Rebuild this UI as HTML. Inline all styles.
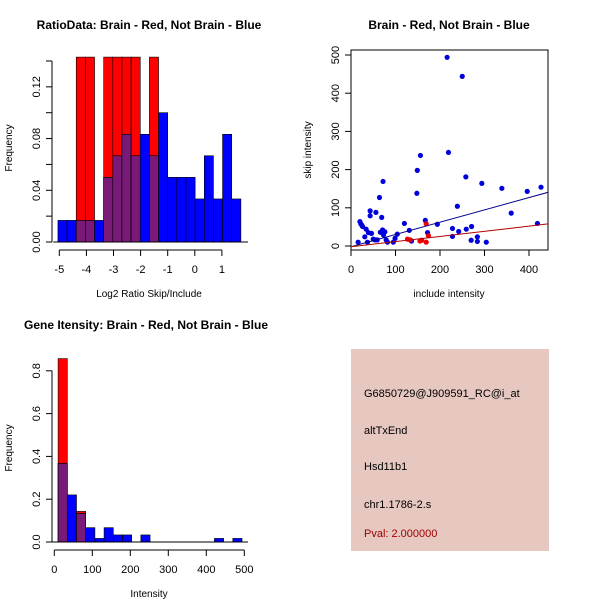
<!DOCTYPE html>
<html><head><meta charset="utf-8"><style>
html,body{margin:0;padding:0;background:#fff;}
svg{display:block;font-family:"Liberation Sans",sans-serif;}
</style></head><body>
<svg id="c" width="600" height="600" xmlns="http://www.w3.org/2000/svg">
<rect width="600" height="600" fill="#fff"/>
<g>
<rect x="351" y="349" width="198" height="202" fill="#e6c8c0"/>
<text x="364" y="397" font-size="11" fill="#000">G6850729@J909591_RC@i_at</text>
<text x="364" y="434" font-size="11" fill="#000">altTxEnd</text>
<text x="364" y="470" font-size="11" fill="#000">Hsd11b1</text>
<text x="364" y="508" font-size="11" fill="#000">chr1.1786-2.s</text>
<text x="364" y="537" font-size="11" fill="#a00000">Pval: 2.000000</text>
</g>
</svg>
<script>
// ---- Plot 1: ratio histogram ----
const ratioBinStart = -5.05, ratioBinWidth = 0.3375;
const ratioBlue = [0.0167,0.0167,0.0167,0.0167,0.0167,0.05,0.0667,0.0833,0.0667,0.0833,0.0667,0.1,0.05,0.05,0.05,0.0333,0.0667,0.0333,0.0833,0.0333];
const ratioRed  = [0,0,0.143,0.143,0,0.143,0.143,0.143,0.143,0,0.143,0,0,0,0,0,0,0,0,0];
const ratioXTicks = [-5,-4,-3,-2,-1,0,1];
const ratioYTicks = [0.00,0.02,0.04,0.06,0.08,0.10,0.12,0.14];
const ratioYLabels = [0.00,0.04,0.08,0.12];
// ---- Plot 2: scatter ----
const blueX = [16,20,22,24,26,31,34,37,39,43,43,46,50,54,56,59,64,66,69,71,72,73,76,79,82,95,99,104,120,131,136,148,149,156,167,172,194,216,219,228,228,239,242,250,258,259,270,271,284,284,294,304,339,360,396,419,427];
const blueY = [10,64,58,55,51,24,44,10,35,92,79,33,18,16,88,16,127,36,75,42,169,29,37,16,10,10,20,31,59,41,13,138,198,237,67,35,57,494,245,46,25,104,38,444,181,44,15,51,24,12,164,10,151,86,143,59,154];
const redX = [127,133,155,159,169,169,174];
const redY = [18,16,13,15,10,58,27];
const blueFit = [-2,0.322];
const redFit = [-2,0.135];
const scXTicks = [0,100,200,300,400];
const scYTicks = [0,100,200,300,400,500];
// ---- Plot 3: intensity histogram ----
const intBinStart = 10, intBinWidth = 24.2;
const intBlue = [0.367,0.22,0.133,0.067,0.0167,0.067,0.033,0.033,0,0.033,0,0,0,0,0,0,0,0.0167,0,0.0167];
const intRed  = [0.857,0,0.143,0,0,0,0,0,0,0,0,0,0,0,0,0,0,0,0,0];
const intXTicks = [0,100,200,300,400,500];
const intYTicks = [0.0,0.2,0.4,0.6,0.8];

const svg = document.getElementById('c');
const NS = 'http://www.w3.org/2000/svg';
function mk(tag, at, parent){const e=document.createElementNS(NS,tag);for(const k in at)e.setAttribute(k,at[k]);(parent||svg).appendChild(e);return e;}
function txt(x,y,s,at,parent){const e=mk('text',Object.assign({x:x,y:y,'font-size':11,'text-anchor':'middle',fill:'#000'},at||{}),parent);e.textContent=s;return e;}

function hist(cfg){
  const g = mk('g',{});
  
  
  const X=v=>cfg.x0+(v-cfg.xmin)*cfg.xs, Y=v=>cfg.y0-v*cfg.ys;
  const clipTop = cfg.ytop;
  for(let i=0;i<cfg.blue.length;i++){
    const a=X(cfg.start+i*cfg.w), b=X(cfg.start+(i+1)*cfg.w);
    const bl=cfg.blue[i], rd=cfg.red[i];
    const ov=Math.min(bl,rd);
    if(rd>0){const r=mk('rect',{x:a,y:Math.max(clipTop,Y(rd)),width:b-a,height:cfg.y0-Math.max(clipTop,Y(rd)),fill:'#ff0000',stroke:'#000','stroke-width':0.6},g);
      
      }
    if(bl>0){const r=mk('rect',{x:a,y:Y(bl),width:b-a,height:cfg.y0-Y(bl),fill:'#0000ff',stroke:'#000','stroke-width':0.6},g);
      
      }
    if(ov>0){const r=mk('rect',{x:a,y:Y(ov),width:b-a,height:cfg.y0-Y(ov),fill:'#7a1a78',stroke:'#000','stroke-width':0.6},g);
      
      }
  }
  mk('line',{x1:cfg.x0-6,x2:cfg.baseEnd,y1:cfg.y0,y2:cfg.y0,stroke:'#000'},g);
  // y axis
  mk('line',{x1:cfg.yaxX,x2:cfg.yaxX,y1:cfg.y0,y2:Y(cfg.yt[cfg.yt.length-1]),stroke:'#000'},g);
  cfg.yt.forEach(t=>{mk('line',{x1:cfg.yaxX-6,x2:cfg.yaxX,y1:Y(t),y2:Y(t),stroke:'#000'},g);});
  cfg.yl.forEach(t=>{txt(cfg.yaxX-12,Y(t),t.toFixed(cfg.ydec),{transform:`rotate(-90 ${cfg.yaxX-12} ${Y(t)})`},g);});
  // x axis
  mk('line',{x1:X(cfg.xt[0]),x2:X(cfg.xt[cfg.xt.length-1]),y1:cfg.xaxY,y2:cfg.xaxY,stroke:'#000'},g);
  cfg.xt.forEach(t=>{mk('line',{x1:X(t),x2:X(t),y1:cfg.xaxY,y2:cfg.xaxY+6,stroke:'#000'},g);
    txt(X(t),cfg.xaxY+23,String(t),{},g);});
  const tt=txt(cfg.titleX,cfg.titleY,cfg.title,{'font-weight':'bold','font-size':12},g);
  
  
  const xl=txt(cfg.xlabX,cfg.xlabY,cfg.xlab,{'font-size':10},g);
  
  
  const yl=txt(12,cfg.ylabY,'Frequency',{'font-size':10,transform:`rotate(-90 12 ${cfg.ylabY})`},g);
  
  
}
hist({name:'ratio-histogram',blue:ratioBlue,red:ratioRed,start:ratioBinStart,w:ratioBinWidth,
  x0:59.3,xmin:-5,xs:27.1,y0:242,ys:1293,ytop:57,baseEnd:248,yaxX:52,xaxY:250,
  xt:ratioXTicks,yt:ratioYTicks,yl:ratioYLabels,ydec:2,title:'RatioData: Brain - Red, Not Brain - Blue',titleX:149,titleY:29,
  xlab:'Log2 Ratio Skip/Include',xlabX:149,xlabY:297,ylabY:148});
hist({name:'intensity-histogram',blue:intBlue,red:intRed,start:intBinStart,w:intBinWidth,
  x0:54.3,xmin:0,xs:0.38,y0:542,ys:214,ytop:0,baseEnd:248,yaxX:52,xaxY:550,
  xt:intXTicks,yt:intYTicks,yl:intYTicks,ydec:1,title:'Gene Itensity: Brain - Red, Not Brain - Blue',titleX:146,titleY:329,
  xlab:'Intensity',xlabX:149,xlabY:597,ylabY:448});

// scatter
(function(){
  const g=mk('g',{});
  
  
  const X=v=>351+v*0.445, Y=v=>246-v*0.382;
  mk('rect',{x:351,y:50,width:197,height:200,fill:'none',stroke:'#000'},g);
  scXTicks.forEach(t=>{mk('line',{x1:X(t),x2:X(t),y1:250,y2:256,stroke:'#000'},g);txt(X(t),273,String(t),{},g);});
  mk('line',{x1:X(0),x2:X(400),y1:250,y2:250,stroke:'#000'},g);
  scYTicks.forEach(t=>{mk('line',{x1:345,x2:351,y1:Y(t),y2:Y(t),stroke:'#000'},g);txt(339,Y(t),String(t),{transform:`rotate(-90 339 ${Y(t)})`},g);});
  const cp=mk('clipPath',{id:'scclip'},g);mk('rect',{x:351,y:50,width:197,height:200},cp);
  const pts=mk('g',{'clip-path':'url(#scclip)'},g);
  for(let i=0;i<blueX.length;i++){const c=mk('circle',{cx:X(blueX[i]),cy:Y(blueY[i]),r:2.6,fill:'#0000dd'},pts);
    
    }
  for(let i=0;i<redX.length;i++){const c=mk('circle',{cx:X(redX[i]),cy:Y(redY[i]),r:2.6,fill:'#ee0000'},pts);
    
    }
  const bl=mk('line',{x1:X(-10),y1:Y(blueFit[0]-10*blueFit[1]),x2:X(460),y2:Y(blueFit[0]+460*blueFit[1]),stroke:'#00008b'},pts);
  
  
  const rl=mk('line',{x1:X(-10),y1:Y(redFit[0]-10*redFit[1]),x2:X(460),y2:Y(redFit[0]+460*redFit[1]),stroke:'#b00000'},pts);
  
  
  const t=txt(449,29,'Brain - Red, Not Brain - Blue',{'font-weight':'bold','font-size':12},g);
  
  
  const xl=txt(449,297,'include intensity',{'font-size':10},g);
  
  
  const yl=txt(311,150,'skip intensity',{'font-size':10,transform:'rotate(-90 311 150)'},g);
  
  
})();
</script>
</body></html>
